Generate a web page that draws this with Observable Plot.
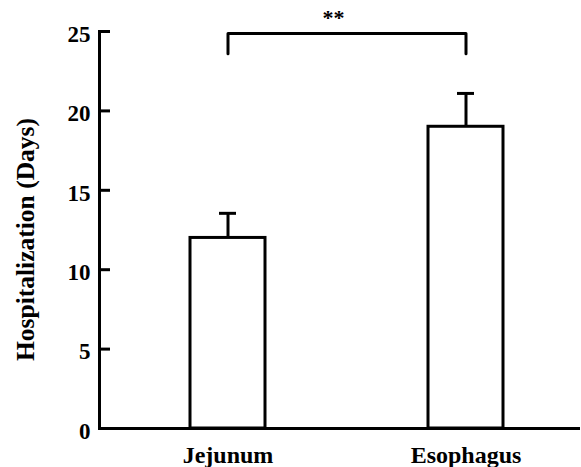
<!DOCTYPE html>
<html>
<head>
<meta charset="utf-8">
<script src="https://cdn.jsdelivr.net/npm/d3@7"></script>
<script src="https://cdn.jsdelivr.net/npm/@observablehq/plot@0.6"></script>
<style>
  body { margin: 0; background: white; }
</style>
</head>
<body>
<div id="chart"></div>
<script>
const categories = ["Jejunum", "Esophagus"];
const means = [12, 19];
const errors = [1.55, 2.1];
const yTicks = [0, 5, 10, 15, 20, 25];
const yLabel = "Hospitalization (Days)";
const significance = "**";
const bracketLow = 23.6;
const bracketHigh = 24.87;

const data = categories.map((c, i) => ({cat: c, mean: means[i], top: means[i] + errors[i]}));
const bracket = [
  {cat: categories[0], y: bracketLow},
  {cat: categories[0], y: bracketHigh},
  {cat: categories[1], y: bracketHigh},
  {cat: categories[1], y: bracketLow}
];

const chart = Plot.plot({
  width: 581,
  height: 467,
  marginLeft: 99,
  marginRight: 1,
  marginTop: 31,
  marginBottom: 39,
  style: {fontFamily: "'Liberation Serif', 'Times New Roman', serif", fontWeight: "bold", fontSize: "23px", background: "white", color: "black"},
  x: {domain: categories, paddingInner: 0.685, paddingOuter: 0.353, align: 0.54},
  y: {domain: [0, 25]},
  marks: [
    Plot.axisY({ticks: yTicks, tickSize: -11, tickFormat: () => "", strokeWidth: 3, label: null}),
    Plot.axisY({ticks: yTicks, tickSize: 0, tickPadding: 9, dy: 3, fontSize: 23, label: null}),
    Plot.axisX({tickSize: 0, tickPadding: 17, fontSize: 24, label: null}),
    Plot.ruleX(data, {x: "cat", y1: "mean", y2: "top", strokeWidth: 3}),
    Plot.tickY(data, {x: "cat", y: "top", strokeWidth: 3, inset: 29}),
    Plot.barY(data, {x: "cat", y: "mean", fill: "white", stroke: "black", strokeWidth: 3}),
    Plot.ruleY([0], {strokeWidth: 3}),
    Plot.frame({anchor: "left", strokeWidth: 3}),
    Plot.line(bracket, {x: "cat", y: "y", strokeWidth: 3}),
    Plot.text([significance], {frameAnchor: "top", text: d => d, textAnchor: "middle", lineAnchor: "middle", dx: -6.5, dy: -13.5, fontSize: 22}),
    Plot.text([yLabel], {frameAnchor: "left", text: d => d, textAnchor: "middle", lineAnchor: "middle", rotate: -90, dx: -74, dy: 9.5, fontSize: 25.5})
  ]
});
document.getElementById("chart").appendChild(chart);
</script>
</body>
</html>
